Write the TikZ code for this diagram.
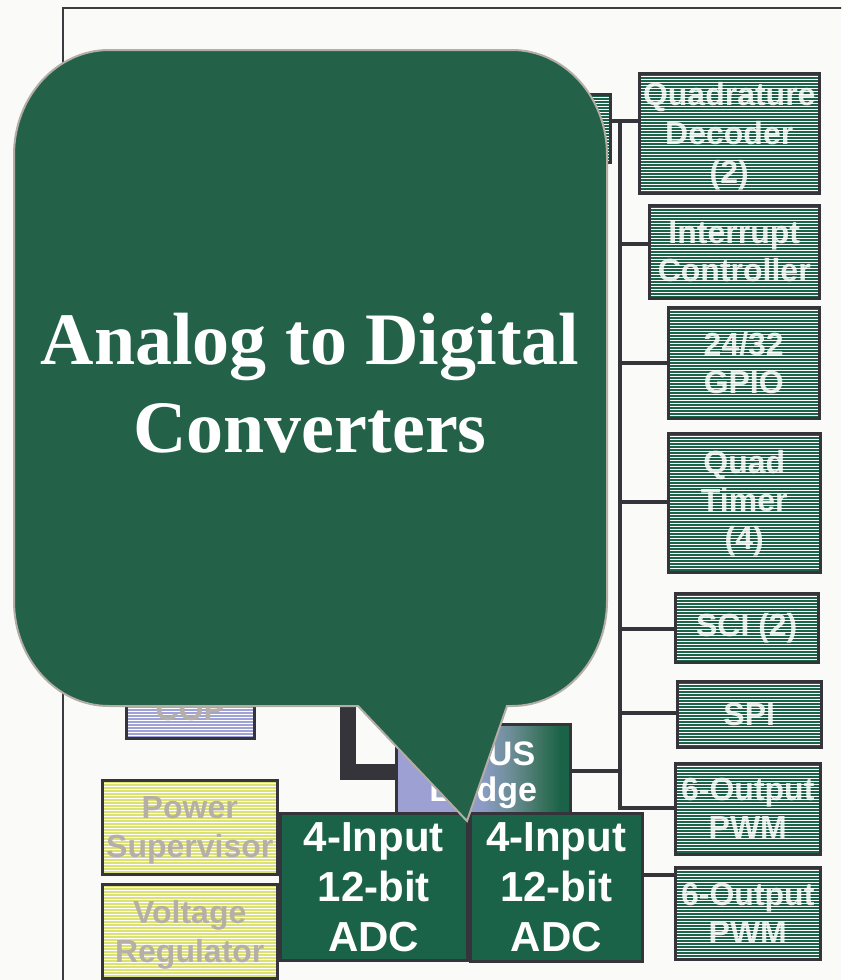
\documentclass[tikz,border=0pt]{standalone}
\usepackage{fontspec}
\setmainfont{Liberation Sans}
\newfontfamily\titlefont{Liberation Serif}

\definecolor{bg}{HTML}{FAFAF8}
\definecolor{frameline}{HTML}{3A3A3F}
\definecolor{wirecol}{HTML}{34343A}
\definecolor{stripegreen}{HTML}{1B6349}
\definecolor{stripeblue}{HTML}{9EA2D6}
\definecolor{stripeyellow}{HTML}{DCE272}
\definecolor{dimtext}{HTML}{B6AFA8}
\definecolor{calloutfill}{HTML}{236249}
\definecolor{calloutedge}{HTML}{B4ADA6}
\definecolor{adcfill}{HTML}{1B6348}
\definecolor{bridgeleft}{HTML}{9CA0D2}
\definecolor{bridgeA}{HTML}{8A9BC4}
\definecolor{bridgeB}{HTML}{6C8D96}
\definecolor{bridgeC}{HTML}{3F7563}

% purple-to-green fill of the bus bridge
\pgfdeclarehorizontalshading{bridgeshade}{100bp}{%
  color(0bp)=(bridgeleft); color(40bp)=(bridgeleft); color(50bp)=(bridgeA);
  color(58bp)=(bridgeB); color(66bp)=(bridgeC); color(72bp)=(adcfill);
  color(100bp)=(adcfill)}

\begin{document}
\begin{tikzpicture}[x=1pt,y=-1pt,
  wire/.style={draw=wirecol, line width=4pt},
  block/.style={draw=wirecol, line width=2.5pt, anchor=north west,
    inner sep=0pt, align=center, font=\fontsize{32}{38}\selectfont\bfseries},
  hatched/.style={fill=white, path picture={
    \foreach \k in {1.5,4.5,...,240}{
      \draw[draw=#1, line width=1.5pt]
        ([yshift=-\k pt]path picture bounding box.north west) --
        ([yshift=-\k pt]path picture bounding box.north east);}}},
  periph/.style={block, hatched=stripegreen, text=white, text opacity=0.85},
  support/.style={block, hatched=stripeyellow, text=dimtext},
  label/.style={inner sep=0pt, align=center, font=\fontsize{32}{39}\selectfont\bfseries},
  adc/.style={block, fill=adcfill, text=white,
    font=\fontsize{42}{50}\selectfont\bfseries},
  callout/.style={fill=calloutfill, draw=calloutedge, line width=2pt},
]
\useasboundingbox (0,0) rectangle (841,980);
\clip (0,0) rectangle (841,980);
\fill[bg] (0,0) rectangle (841,980);

% chip outline
\draw[frameline, line width=2pt] (63,1000) -- (63,8) -- (860,8);

% peripheral blocks on the right
\node[periph, minimum width=49, minimum height=68] (hid) at (560,93) {};
\node[periph, minimum width=180, minimum height=120] (qd) at (638,72) {};
\node[label, text=white, text opacity=0.85] (qdtxt) at (qd.center) [yshift=-3pt] {Quadrature\\Decoder\\(2)};
\node[periph, minimum width=170, minimum height=93] (intc) at (648,204) {Interrupt\\Controller};
\node[periph, minimum width=151, minimum height=111] (gpio) at (667,306) {24/32\\GPIO};
\node[periph, minimum width=152, minimum height=139] (qtimer) at (667,432) {Quad\\Timer\\(4)};
\node[periph, minimum width=143, minimum height=69] (sci) at (674,592) {SCI (2)};
\node[periph, minimum width=144, minimum height=66] (spi) at (676,680) {SPI};
\node[periph, minimum width=145, minimum height=91] (pwmA) at (674,762) {6-Output\\PWM};
\node[periph, minimum width=145, minimum height=92] (pwmB) at (674,866) {6-Output\\PWM};

% peripheral bus
\coordinate (busT) at (620,121);
\coordinate (busB) at (620,808);
\draw[wire] (busT -| hid.east) -- (busT -| qd.west);
\draw[wire, line join=miter] (busT) -- (busB) -- (busB -| pwmA.west);
\coordinate (tapInt) at (620,244);
\coordinate (tapGpio) at (620,363);
\coordinate (tapTim) at (620,502);
\coordinate (tapSci) at (620,629);
\coordinate (tapSpi) at (620,713);
\coordinate (tapBr) at (620,771);
\draw[wire] (tapInt) -- (tapInt -| intc.west);
\draw[wire] (tapGpio) -- (tapGpio -| gpio.west);
\draw[wire] (tapTim) -- (tapTim -| qtimer.west);
\draw[wire] (tapSci) -- (tapSci -| sci.west);
\draw[wire] (tapSpi) -- (tapSpi -| spi.west);

% left-side support blocks
\node[block, hatched=stripeblue, text=dimtext, minimum width=128, minimum height=57] (cop) at (125,680) {COP};
\node[support, minimum width=175, minimum height=94] (psup) at (101,779) {};
\node[label, text=dimtext] (psuptxt) at (psup.center) [yshift=-3pt] {Power\\Supervisor};
\node[support, minimum width=175, minimum height=94] (vreg) at (101,883) {};
\node[label, text=dimtext] (vregtxt) at (vreg.center) [yshift=-4pt] {Voltage\\Regulator};

% core bus into the bridge
\coordinate (coreTop) at (348,690);
\coordinate (coreBend) at (348,772);

% IPBUS bridge
\node[block, shading=bridgeshade, minimum width=174, minimum height=89] (bridge) at (395,723) {};
\node[text=white, align=center, inner sep=0pt, font=\fontsize{34}{36}\selectfont\bfseries] (bridgetxt) at (bridge.center) [yshift=-6pt] {IPBUS\\Bridge};
\draw[wirecol, line width=16pt, line join=miter] (coreTop) -- (coreBend) -- (coreBend -| bridge.west);
\draw[wire] (tapBr -| bridge.east) -- (tapBr);

% converters
\node[adc, minimum width=187, minimum height=147] (adcA) at (279,812) {4-Input\\12-bit\\ADC};
\node[adc, minimum width=172, minimum height=148] (adcB) at (469,812) {4-Input\\12-bit\\ADC};
\coordinate (tapPwmB) at (657,875);
\draw[wire] (tapPwmB -| adcB.east) -- (tapPwmB -| pwmB.west);
\draw[wire] (tapPwmB -| adcA.east) -- (tapPwmB -| adcB.west);

% callout balloon
\path[callout]
  (14,155) arc[start angle=180, end angle=90, x radius=95pt, y radius=105pt]
  -- (512,50) arc[start angle=90, end angle=0, x radius=95pt, y radius=105pt]
  -- (607,601) arc[start angle=0, end angle=-90, x radius=95pt, y radius=105pt]
  -- (507,706) -- (467,821) -- (358,706)
  -- (109,706) arc[start angle=270, end angle=180, x radius=95pt, y radius=105pt]
  -- cycle;
\node[text=white, align=center, inner sep=0pt,
  font=\titlefont\bfseries\fontsize{74}{88}\selectfont] (title) at (310,383)
  {Analog to Digital\\Converters};
\end{tikzpicture}
\end{document}
